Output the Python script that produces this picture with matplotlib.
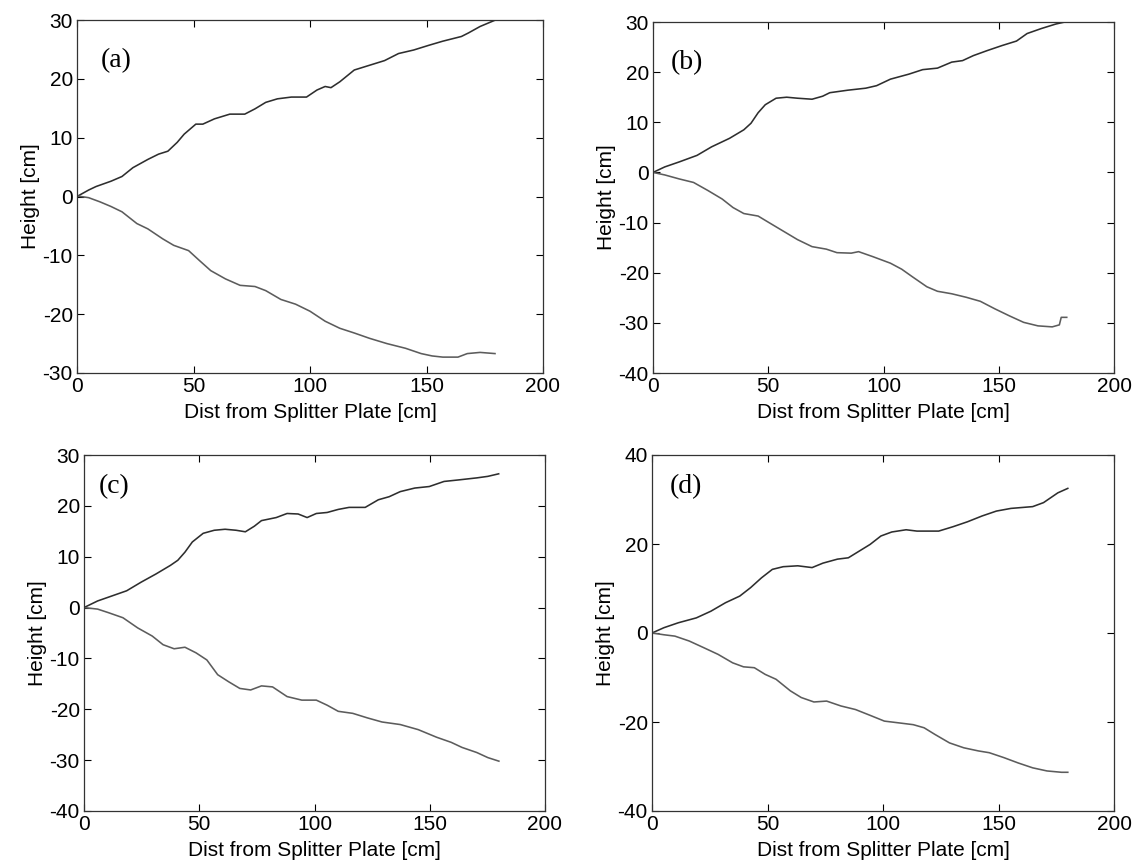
import matplotlib.pyplot as plt

# panel (a)
a_up_x = [0, 5, 8.2, 14.6, 19.3, 24, 30.4, 35, 39, 43, 46, 51, 54, 59, 65.6, 72, 76.4, 81, 86, 92, 98.5,
          103, 106.5, 109, 112.8, 119, 125.5, 132, 138, 144.5, 151, 157, 165, 168, 173, 179]
a_up_y = [0, 1.1, 1.7, 2.6, 3.4, 4.9, 6.3, 7.2, 7.7, 9.2, 10.6, 12.3, 12.3, 13.2, 14.0, 14.0, 14.9, 16.0, 16.6,
          16.9, 16.9, 18.1, 18.7, 18.5, 19.5, 21.5, 22.3, 23.1, 24.3, 24.9, 25.7, 26.4, 27.2, 27.8, 28.9, 29.9]
a_lo_x = [0, 5, 9.8, 14.6, 19.3, 25.7, 30.4, 36.8, 41.5, 47.9, 52.6, 57.4, 63.7, 70, 76.4, 81, 87.5, 93.8,
          100, 106.5, 112.8, 119, 125.5, 133, 141, 147.7, 152.4, 157, 163.5, 167.5, 173, 179.4]
a_lo_y = [0.1, -0.2, -0.9, -1.7, -2.6, -4.6, -5.5, -7.2, -8.3, -9.2, -10.9, -12.6, -14.0, -15.1, -15.3, -16.0,
          -17.5, -18.3, -19.5, -21.2, -22.4, -23.2, -24.1, -25.0, -25.8, -26.7, -27.1, -27.3, -27.3, -26.7,
          -26.5, -26.7]

# panel (b)
b_up_x = [0, 5.1, 11.4, 19.1, 25.4, 33.2, 39.4, 42.5, 45.6, 48.7, 53.4, 58, 62.7, 69, 73.6, 76.7, 84.5, 92.3,
          97, 103, 111, 117, 123.4, 129.6, 134.3, 139, 145, 151.4, 157.7, 162.3, 168.5, 174.8, 178.7]
b_up_y = [0, 1.1, 2.1, 3.4, 5.1, 6.8, 8.5, 9.8, 11.9, 13.5, 14.8, 15.0, 14.8, 14.6, 15.2, 15.9, 16.4, 16.8,
          17.3, 18.6, 19.6, 20.5, 20.8, 22.0, 22.3, 23.3, 24.3, 25.3, 26.2, 27.7, 28.7, 29.6, 30.0]
b_lo_x = [0, 5.1, 11.4, 17.6, 23.8, 30, 34.7, 39.4, 45.6, 50.3, 56.5, 62.7, 69, 75.2, 79.8, 86, 89.2, 95.4,
          103, 107.9, 112.5, 118.8, 123.4, 129.6, 135.9, 142, 148.3, 154.6, 160.8, 167, 173.2, 176.3, 177.1,
          179.5]
b_lo_y = [0, -0.5, -1.3, -2.0, -3.6, -5.3, -7.0, -8.2, -8.7, -10.0, -11.7, -13.4, -14.8, -15.3, -16.0, -16.1,
          -15.8, -16.8, -18.1, -19.3, -20.8, -22.8, -23.7, -24.2, -24.9, -25.7, -27.2, -28.6, -29.9, -30.6,
          -30.8, -30.4, -28.9, -28.9]

# panel (c)
c_up_x = [0, 5.9, 12.2, 18.5, 24.8, 31.2, 37.5, 40.7, 43.8, 47, 51.7, 56.5, 61.2, 66, 70, 73.9, 77, 83.4, 88.1,
          92.9, 96.8, 100.8, 105.5, 110.3, 115, 122, 127.7, 132.4, 137.2, 143.5, 149.8, 156.2, 162.5, 170.4,
          175.2, 179.9]
c_up_y = [0, 1.3, 2.3, 3.3, 5.0, 6.6, 8.3, 9.3, 10.9, 12.9, 14.6, 15.2, 15.4, 15.2, 14.9, 16.0, 17.1, 17.7,
          18.5, 18.4, 17.7, 18.5, 18.7, 19.3, 19.7, 19.7, 21.2, 21.8, 22.8, 23.5, 23.8, 24.8, 25.1, 25.5, 25.8,
          26.3]
c_lo_x = [0, 5.9, 10.6, 16.9, 23.3, 29.6, 34.3, 39.1, 43.8, 48.6, 53.3, 58, 62.8, 67.6, 72.3, 77, 81.8, 88.1,
          94.5, 100.8, 105.5, 110.3, 116.6, 123, 129.3, 137.2, 145, 153, 159.3, 164, 170.4, 175.2, 180]
c_lo_y = [0, -0.3, -1.0, -2.0, -4.0, -5.6, -7.3, -8.1, -7.8, -8.9, -10.3, -13.2, -14.6, -15.9, -16.2, -15.4,
          -15.6, -17.5, -18.2, -18.2, -19.2, -20.4, -20.8, -21.7, -22.5, -23.0, -24.0, -25.5, -26.5, -27.5,
          -28.5, -29.5, -30.2]

# panel (d)
d_up_x = [0, 5.2, 11.4, 19.2, 25.5, 31.8, 38, 42.7, 47.4, 52.1, 56.8, 63.1, 69.3, 74, 80.3, 85, 89.7, 94.4,
          99.1, 103.8, 110, 114.7, 124.1, 130.4, 136.6, 142.9, 149.1, 155.4, 164.8, 169.5, 175.7, 180]
d_up_y = [0, 1.2, 2.3, 3.4, 4.9, 6.8, 8.3, 10.2, 12.4, 14.3, 14.9, 15.1, 14.7, 15.7, 16.6, 16.9, 18.4, 19.9,
          21.8, 22.7, 23.2, 22.9, 22.9, 23.9, 25.0, 26.3, 27.4, 28.0, 28.4, 29.3, 31.5, 32.5]
d_lo_x = [0, 5.2, 9.9, 16.1, 22.4, 28.6, 34.9, 39.6, 44.3, 49, 53.7, 59.9, 64.6, 70.1, 75.6, 81.8, 88.1, 94.4,
          100.6, 106.9, 113.1, 117.8, 122.5, 128.8, 135, 141.3, 146, 152.3, 158.5, 164.8, 171, 177.3, 180]
d_lo_y = [0, -0.4, -0.7, -1.8, -3.3, -4.8, -6.7, -7.6, -7.8, -9.3, -10.4, -13.0, -14.5, -15.5, -15.3, -16.4,
          -17.2, -18.5, -19.8, -20.2, -20.6, -21.3, -22.8, -24.7, -25.8, -26.5, -26.9, -28.0, -29.2, -30.3,
          -31.0, -31.3, -31.3]

panels = [
    ("(a)", a_up_x, a_up_y, a_lo_x, a_lo_y, (-30, 30), [-30, -20, -10, 0, 10, 20, 30]),
    ("(b)", b_up_x, b_up_y, b_lo_x, b_lo_y, (-40, 30), [-40, -30, -20, -10, 0, 10, 20, 30]),
    ("(c)", c_up_x, c_up_y, c_lo_x, c_lo_y, (-40, 30), [-40, -30, -20, -10, 0, 10, 20, 30]),
    ("(d)", d_up_x, d_up_y, d_lo_x, d_lo_y, (-40, 40), [-40, -20, 0, 20, 40]),
]

W, H = 1143, 864
# axes boxes in pixels: left, top, right, bottom
boxes = [(77, 20, 543, 373), (653, 22, 1114, 373), (84, 455, 545, 811), (652, 455, 1114, 811)]
# where the (a)..(d) tags sit, in axes fractions
tag_pos = [(0.05, 0.884), (0.038, 0.884), (0.033, 0.91), (0.038, 0.91)]

plt.rcParams['font.family'] = ['Liberation Sans', 'DejaVu Sans']
plt.rcParams['axes.unicode_minus'] = False
fig = plt.figure(figsize=(W / 100, H / 100), dpi=100)

for (lab, ux, uy, lx, ly, ylim, yt), (l, t, r, b), (tx, ty) in zip(panels, boxes, tag_pos):
    ax = fig.add_axes([l / W, 1 - b / H, (r - l) / W, (b - t) / H])
    ax.plot(ux, uy, color='#2e2e2e', lw=1.15)
    ax.plot(lx, ly, color='#5c5c5c', lw=1.15)
    ax.set_xlim(0, 200)
    ax.set_ylim(*ylim)
    ax.set_xticks([0, 50, 100, 150, 200])
    ax.set_yticks(yt)
    ax.tick_params(direction='in', top=True, right=True, length=5, width=0.8, labelsize=15, pad=3)
    for s in ax.spines.values():
        s.set_linewidth(0.9)
        s.set_color('#333333')
    ax.set_xlabel('Dist from Splitter Plate [cm]', fontsize=15, labelpad=5)
    ax.set_ylabel('Height [cm]', fontsize=15, labelpad=2)
    ax.text(tx, ty, lab, transform=ax.transAxes, fontsize=20, va='center',
            family=['Liberation Serif'])

fig.savefig('out.png', dpi=100)
